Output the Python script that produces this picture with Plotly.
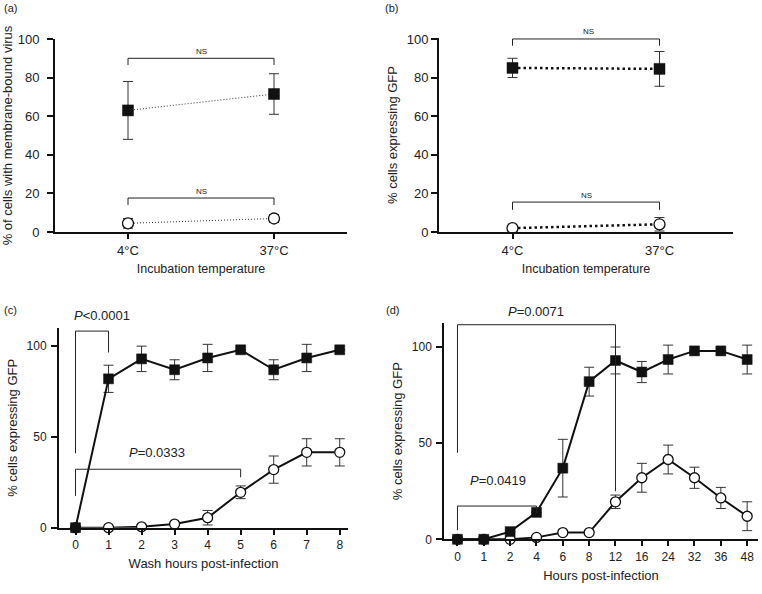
import plotly.graph_objects as go

# ---------------- data ----------------
# Panel (a)
temps = ["4°C", "37°C"]
a_filled = [63, 71.5]
a_filled_err = [15, 10.5]
a_open = [4.5, 7]
a_open_err = [2.5, 2]
ns_x = ["4°C", "4°C", "37°C", "37°C"]
a_ns_top_y = [86.5, 90, 90, 86.5]
a_ns_low_y = [14, 17.6, 17.6, 14]

# Panel (b)
b_filled = [85, 84.5]
b_filled_err = [5, 9]
b_open = [2, 4]
b_open_err = [0, 3.5]
b_ns_top_y = [96.5, 100, 100, 96.5]
b_ns_low_y = [11.5, 15.5, 15.5, 11.5]

# Panel (c)
wash_hours = [0, 1, 2, 3, 4, 5, 6, 7, 8]
c_filled = [0, 82, 93, 87, 93.5, 98, 87, 93.5, 98]
c_filled_err = [0, 7.5, 7, 5.5, 7.5, 0, 5.5, 7.5, 0]
c_open = [0, 0, 0.5, 2, 5.5, 19.5, 32, 41.5, 41.5]
c_open_err = [0, 0, 0, 0, 4, 3.5, 7.5, 7.5, 7.5]
c_p1_x = [0, 0, 1, 1]
c_p1_y = [41, 108.3, 108.3, 96.5]
c_p2_x = [0, 0, 5, 5]
c_p2_y = [17.5, 32.2, 32.2, 27.8]

# Panel (d)
hours = ["0", "1", "2", "4", "6", "8", "12", "16", "24", "32", "36", "48"]
d_filled = [0, 0, 4, 14, 37, 82, 93, 87, 93.5, 98, 98, 93.5]
d_filled_err = [0, 0, 0, 0, 15, 7.5, 7, 5.5, 7.5, 0, 0, 7.5]
d_open = [0, 0, 0, 1, 3.5, 3.5, 19.5, 32, 41.5, 32, 21.5, 12]
d_open_err = [0, 0, 0, 0, 0, 0, 3.5, 7.5, 7.5, 5.5, 5.5, 7.5]
d_p1_x = ["0", "0", "12", "12"]
d_p1_y = [45, 111.6, 111.6, 25]
d_p2_x = ["0", "0", "4", "4"]
d_p2_y = [4.7, 17.3, 17.3, 13.8]

FONT = "Liberation Sans, Arial, sans-serif"
BLACK = "#111111"

fig = go.Figure()


def err(arr):
    return dict(type="data", array=arr, visible=True, color="#333333", thickness=1, width=5)


def add_pair(xa, ya, x, filled, ferr, opn, oerr, line_style, msize):
    fig.add_trace(go.Scatter(
        x=x, y=opn, xaxis=xa, yaxis=ya, mode="lines+markers",
        line=line_style, error_y=err(oerr), cliponaxis=False,
        marker=dict(symbol="circle", size=msize, color="white",
                    line=dict(color=BLACK, width=1.3)),
        showlegend=False))
    fig.add_trace(go.Scatter(
        x=x, y=filled, xaxis=xa, yaxis=ya, mode="lines+markers",
        line=line_style, error_y=err(ferr), cliponaxis=False,
        marker=dict(symbol="square", size=msize, color=BLACK,
                    line=dict(color=BLACK, width=0.5)),
        showlegend=False))


def bracket(xa, ya, x, y):
    fig.add_trace(go.Scatter(
        x=x, y=y, xaxis=xa, yaxis=ya, mode="lines", cliponaxis=False,
        line=dict(color="#222222", width=1), showlegend=False, hoverinfo="skip"))


# (a)
add_pair("x", "y", temps, a_filled, a_filled_err, a_open, a_open_err,
         dict(color="#333333", width=1, dash="1px,2px"), 11)
bracket("x", "y", ns_x, a_ns_top_y)
bracket("x", "y", ns_x, a_ns_low_y)
# (b)
add_pair("x2", "y2", temps, b_filled, b_filled_err, b_open, b_open_err,
         dict(color=BLACK, width=2.5, dash="2.5px,3px"), 11)
bracket("x2", "y2", ns_x, b_ns_top_y)
bracket("x2", "y2", ns_x, b_ns_low_y)
# (c)
add_pair("x3", "y3", wash_hours, c_filled, c_filled_err, c_open, c_open_err,
         dict(color=BLACK, width=2), 10)
bracket("x3", "y3", c_p1_x, c_p1_y)
bracket("x3", "y3", c_p2_x, c_p2_y)
# (d)
add_pair("x4", "y4", hours, d_filled, d_filled_err, d_open, d_open_err,
         dict(color=BLACK, width=2), 10)
bracket("x4", "y4", d_p1_x, d_p1_y)
bracket("x4", "y4", d_p2_x, d_p2_y)

W, H = 762, 594


def xd(l, r):
    return [l / W, r / W]


def yd(b, t):
    return [1 - b / H, 1 - t / H]


def xaxis(domain, anchor, title, tfs, titfs, **kw):
    d = dict(domain=domain, anchor=anchor, showline=True, linewidth=2, linecolor=BLACK,
             ticks="outside", ticklen=5, tickwidth=1.5, tickcolor=BLACK,
             showgrid=False, zeroline=False,
             tickfont=dict(family=FONT, size=tfs, color="#222222"),
             title=dict(text=title, font=dict(family=FONT, size=titfs, color="#222222"), standoff=8),
             automargin=False)
    d.update(kw)
    return d


def yaxis(domain, anchor, title, rng, tfs, lblgap, **kw):
    d = dict(domain=domain, anchor=anchor, range=rng, showline=True, linewidth=2,
             linecolor=BLACK, ticks="outside", ticklen=6, tickwidth=1.5, tickcolor=BLACK,
             showgrid=False, zeroline=False, ticklabelstandoff=lblgap,
             tickfont=dict(family=FONT, size=tfs, color="#222222"),
             title=dict(text=title, font=dict(family=FONT, size=13, color="#222222"), standoff=6),
             automargin=False)
    d.update(kw)
    return d


fig.update_layout(
    width=W, height=H, margin=dict(l=0, r=0, t=0, b=0),
    plot_bgcolor="white", paper_bgcolor="white", showlegend=False,
    xaxis=xaxis(xd(55, 347), "y", "Incubation temperature", 13, 12.5,
                type="category", range=[-0.5, 1.5]),
    yaxis=yaxis(yd(232, 39), "x", "% of cells with membrane-bound virus", [0, 100], 13, 5,
                tickvals=[0, 20, 40, 60, 80, 100], tickmode="array"),
    xaxis2=xaxis(xd(439, 733), "y2", "Incubation temperature", 13, 12.5,
                 type="category", range=[-0.5, 1.5]),
    yaxis2=yaxis(yd(232, 38), "x2", "% cells expressing GFP", [0, 100.5], 13, 0,
                 tickvals=[0, 20, 40, 60, 80, 100], tickmode="array"),
    xaxis3=xaxis(xd(59, 348), "y3", "Wash hours post-infection", 12, 13,
                 range=[-0.5, 8.25], tickvals=wash_hours, tickmode="array"),
    yaxis3=yaxis(yd(527.7, 328), "x3", "% cells expressing GFP", [0, 110], 12, 2,
                 tickvals=[0, 50, 100], tickmode="array"),
    xaxis4=xaxis(xd(444.3, 757.7), "y4", "Hours post-infection", 12, 13,
                 type="category", range=[-0.5, 11.4]),
    yaxis4=yaxis(yd(539.3, 323), "x4", "% cells expressing GFP", [0, 112.5], 12, 2,
                 tickvals=[0, 50, 100], tickmode="array"),
)

ann = []


def txt(text, x, y, xref, yref, size, xanchor="center", yanchor="middle"):
    ann.append(dict(text=text, x=x, y=y, xref=xref, yref=yref, showarrow=False,
                    font=dict(family=FONT, size=size, color="#222222"),
                    xanchor=xanchor, yanchor=yanchor))


def px(xp, yp):
    return xp / W, 1 - yp / H


# panel labels
for lab, xp, yp in [("(a)", 2, 8), ("(b)", 383, 8), ("(c)", 2, 310), ("(d)", 384, 310)]:
    X, Y = px(xp, yp)
    txt(lab, X, Y, "paper", "paper", 11, "left")
# NS labels
txt("NS", 0.5, 93.5, "x", "y", 8)
txt("NS", 0.5, 21, "x", "y", 8)
X, Y = px(588, 31)
txt("NS", X, Y, "paper", "paper", 8)
txt("NS", 0.5, 19, "x2", "y2", 8)
# P values
X, Y = px(71.7, 315.7)
txt("<i>P</i>&lt;0.0001", X, Y, "paper", "paper", 13, "left")
txt("<i>P</i>=0.0333", 2.47, 41.3, "x3", "y3", 13)
X, Y = px(536, 311.3)
txt("<i>P</i>=0.0071", X, Y, "paper", "paper", 13)
txt("<i>P</i>=0.0419", 1.55, 30.5, "x4", "y4", 13)
fig.update_layout(annotations=ann)

fig.write_html("out.html", config={"displayModeBar": False},
               post_script="document.body.style.margin='0';")
